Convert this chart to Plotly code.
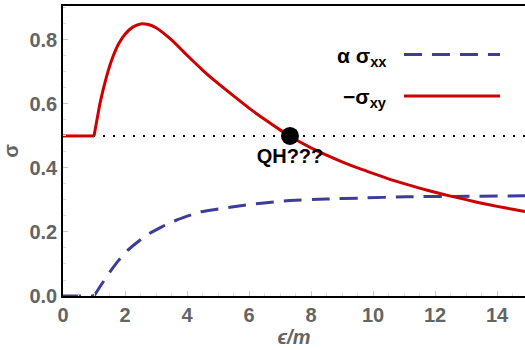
import plotly.graph_objects as go

# data
red_x = [0, 1.0, 1.1, 1.2, 1.4, 1.6, 1.8, 2.0, 2.25, 2.5, 2.75, 3.0, 3.5, 4.0, 4.5, 5.0, 5.5, 6.0, 6.5, 7.0,
         7.5, 8.0, 8.5, 9.0, 9.5, 10.0, 10.5, 11.0, 11.5, 12.0, 12.5, 13.0, 13.5, 14.0, 14.5, 14.9]
red_y = [0.5, 0.5, 0.553, 0.605, 0.684, 0.745, 0.789, 0.818, 0.840, 0.850, 0.848, 0.838, 0.800, 0.752, 0.706, 0.664,
         0.625, 0.587, 0.552, 0.519, 0.489, 0.463, 0.440, 0.419, 0.400, 0.383, 0.366, 0.351, 0.337, 0.324, 0.312,
         0.301, 0.290, 0.280, 0.271, 0.264]

blue_x = [0, 1.0, 1.19, 1.52, 1.8, 2.1, 2.45, 2.8, 3.2, 3.67, 4.45, 5.5, 6.4, 7.32, 8.5, 9.6, 11.08, 12.5, 14.9]
blue_y = [0, 0, 0.029, 0.076, 0.112, 0.144, 0.172, 0.196, 0.217, 0.2375, 0.263, 0.279, 0.29, 0.298, 0.303, 0.306,
          0.31, 0.311, 0.313]

ref_x = [0, 14.9]
ref_y = [0.5, 0.5]

qh_x = [7.32]
qh_y = [0.5]
qh_label = "QH???"

x_ticks = [0, 2, 4, 6, 8, 10, 12, 14]
y_ticks = [0.0, 0.2, 0.4, 0.6, 0.8]

RED = "#CC0000"
BLUE = "#3D3C98"
GRAY = "rgb(100,100,100)"
FONT = "Liberation Sans"

fig = go.Figure()
fig.add_trace(go.Scatter(x=ref_x, y=ref_y, mode="lines",
                         line=dict(color="black", width=2, dash="2px,8px"), showlegend=False))
# flat parts and curved parts as separate traces so the spline does not overshoot at the kink
fig.add_trace(go.Scatter(x=blue_x[:2], y=blue_y[:2], mode="lines",
                         line=dict(color=BLUE, width=3, dash="18px,10px"), showlegend=False))
fig.add_trace(go.Scatter(x=blue_x[1:], y=blue_y[1:], mode="lines",
                         line=dict(color=BLUE, width=3, dash="18px,10px", shape="spline", smoothing=0.5),
                         showlegend=False))
fig.add_trace(go.Scatter(x=red_x[:2], y=red_y[:2], mode="lines",
                         line=dict(color=RED, width=3), showlegend=False))
fig.add_trace(go.Scatter(x=red_x[1:], y=red_y[1:], mode="lines",
                         line=dict(color=RED, width=3, shape="spline", smoothing=0.6), showlegend=False))
fig.add_trace(go.Scatter(x=qh_x, y=qh_y, mode="markers+text", text=["<b>" + qh_label + "</b>"],
                         textposition="bottom center",
                         textfont=dict(family=FONT, size=20, color="black"),
                         marker=dict(color="black", size=18), showlegend=False))

# legend drawn manually (text left of sample)
fig.add_shape(type="line", xref="paper", yref="paper", x0=0.738, x1=0.946, y0=0.833, y1=0.833,
              line=dict(color=BLUE, width=3, dash="18px,10px"))
fig.add_shape(type="line", xref="paper", yref="paper", x0=0.738, x1=0.946, y0=0.69, y1=0.69,
              line=dict(color=RED, width=3))
fig.add_annotation(xref="paper", yref="paper", x=0.705, y=0.825, xanchor="right", yanchor="middle",
                   text="<b>α σ<sub>xx</sub></b>", showarrow=False,
                   font=dict(family=FONT, size=21, color="black"))
fig.add_annotation(xref="paper", yref="paper", x=0.705, y=0.683, xanchor="right", yanchor="middle",
                   text="<b>−σ<sub>xy</sub></b>", showarrow=False,
                   font=dict(family=FONT, size=21, color="black"))

fig.update_layout(
    width=525, height=350,
    margin=dict(l=63, r=0, t=6, b=54),
    plot_bgcolor="white", paper_bgcolor="white",
    font=dict(family=FONT, size=20, color=GRAY),
    xaxis=dict(range=[0, 14.9], tickvals=x_ticks, ticktext=["<b>%d</b>" % v for v in x_ticks],
               showgrid=False, zeroline=False, automargin=False,
               showline=True, linecolor="black", linewidth=1.5, mirror=True,
               ticks="inside", ticklen=5, tickcolor="rgb(200,200,200)",
               minor=dict(ticks="inside", ticklen=3, dtick=0.5, tickcolor="rgb(220,220,220)"),
               tickfont=dict(family=FONT, size=20, color=GRAY),
               title=dict(text="<b><i>ϵ/m</i></b>", font=dict(family=FONT, size=20, color=GRAY), standoff=4)),
    yaxis=dict(range=[0, 0.906], tickvals=y_ticks, ticktext=["<b>%.1f</b>" % v for v in y_ticks],
               showgrid=False, zeroline=False, automargin=False,
               showline=True, linecolor="black", linewidth=1.5, mirror=False,
               ticks="inside", ticklen=5, tickcolor="rgb(200,200,200)",
               minor=dict(ticks="inside", ticklen=3, dtick=0.05, tickcolor="rgb(220,220,220)"),
               tickfont=dict(family=FONT, size=20, color=GRAY),
               title=dict(text="<b>σ</b>", font=dict(family=FONT, size=20, color=GRAY), standoff=6)),
)

fig.write_html("out.html", post_script="document.body.style.margin='0';",
               config={"displayModeBar": False})
